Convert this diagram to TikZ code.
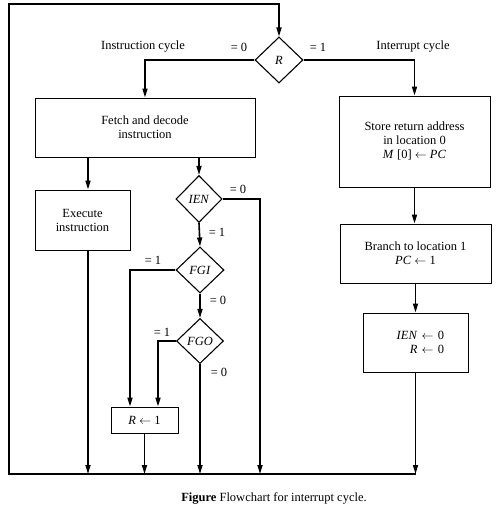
\documentclass[tikz,border=0pt]{standalone}
\usepackage{fontspec}
\setmainfont{Liberation Serif}
\usetikzlibrary{arrows.meta,shapes.geometric}

\begin{document}
\begin{tikzpicture}[>={Triangle[length=9pt,width=5pt]},x=1pt,y=-1pt,
  font=\fontsize{12.5}{14}\selectfont,
  box/.style={draw,line width=0.9pt,align=center,inner sep=2pt},
  test/.style={draw,diamond,line width=1.1pt,inner sep=0pt,minimum width=48pt,minimum height=46pt},
  lbl/.style={inner sep=0pt},
  flow/.style={->,line width=1.6pt}]
  \useasboundingbox (0,0) rectangle (497,510);

  % Corners of the return loop and line columns
  \coordinate (top) at (9,4);
  \coordinate (bot) at (9,474);
  \coordinate (c1) at (88,0);
  \coordinate (c2) at (130,0);
  \coordinate (c3) at (158,0);
  \coordinate (c4) at (260,0);

  % Decisions
  \node[test] (r) at (279,60) {\textit{R}};
  \node[test,minimum width=46pt,minimum height=47pt] (ien) at (199,199) {\textit{IEN}};
  \node[test] (fgi) at (200,270) {\textit{FGI}};
  \node[test,minimum width=47pt,minimum height=45pt] (fgo) at (200,341) {\textit{FGO}};

  % Instruction cycle boxes
  \node[box,minimum width=220pt,minimum height=59pt] (fetch) at (145,127.5) {Fetch and decode\\instruction};
  \node[box,minimum width=95pt,minimum height=60pt] (exec) at (82.5,220) {Execute\\instruction};
  \node[box,minimum width=67pt,minimum height=26pt] (rset) at (144.5,420) {\textit{R} $\leftarrow$ 1};

  % Interrupt cycle boxes
  \node[box,minimum width=151pt,minimum height=91pt] (store) at (414.5,141.5) {Store return address\\in location 0\\\textit{M} [0] $\leftarrow$ \textit{PC}};
  \node[box,minimum width=151pt,minimum height=59pt] (branch) at (415.5,253.5) {Branch to location 1\\\textit{PC} $\leftarrow$ 1};
  \node[box,minimum width=105pt,minimum height=59pt,text width=57pt,align=right] (clr) at (415.5,342.5) {\textit{IEN} $\leftarrow$ 0\\\textit{R} $\leftarrow$ 0};

  % Labels
  \node[lbl] (icyc) at (143,47) {Instruction cycle};
  \node[lbl] (r0) at (239,47) {= 0};
  \node[lbl] (r1) at (318,47) {= 1};
  \node[lbl] (intc) at (413,47) {Interrupt cycle};
  \node[lbl] (ien0) at (238,189) {= 0};
  \node[lbl] (ien1) at (217,232) {= 1};
  \node[lbl] (fgi1) at (153,260) {= 1};
  \node[lbl] (fgi0) at (218,300) {= 0};
  \node[lbl] (fgo1) at (162,332) {= 1};
  \node[lbl] (fgo0) at (219,372) {= 0};

  % Connectors
  \draw[flow] (r.west) -| (fetch.north);
  \draw[flow] (r.east) -| (store.north);
  \draw[flow] (c1 |- fetch.south) -- (c1 |- exec.north);
  \draw[flow] (fetch.south -| ien.north) -- (ien.north);
  \draw[flow] (ien.south) -- (fgi.north);
  \draw[flow] (fgi.south) -- (fgo.north);
  \draw[flow] (ien.east) -| (c4 |- bot);
  \draw[flow] (fgi.west) -| (c2 |- rset.north);
  \draw[flow] (fgo.west) -| (c3 |- rset.north);
  \draw[flow] (fgo.south) -- (fgo.south |- bot);
  \draw[flow] (c1 |- exec.south) -- (c1 |- bot);
  \draw[flow] (rset.south) -- (rset.south |- bot);
  \draw[flow] (store.south) -- (store.south |- branch.north);
  \draw[flow] (branch.south) -- (branch.south |- clr.north);
  \draw[flow] (clr.south) -- (clr.south |- bot);

  % Return loop
  \draw[flow] (clr.south |- bot) -- (bot) -- (top) -| (r.north);

  % Caption
  \node (cap) at (274,498) {\textbf{Figure} Flowchart for interrupt cycle.};
\end{tikzpicture}
\end{document}
